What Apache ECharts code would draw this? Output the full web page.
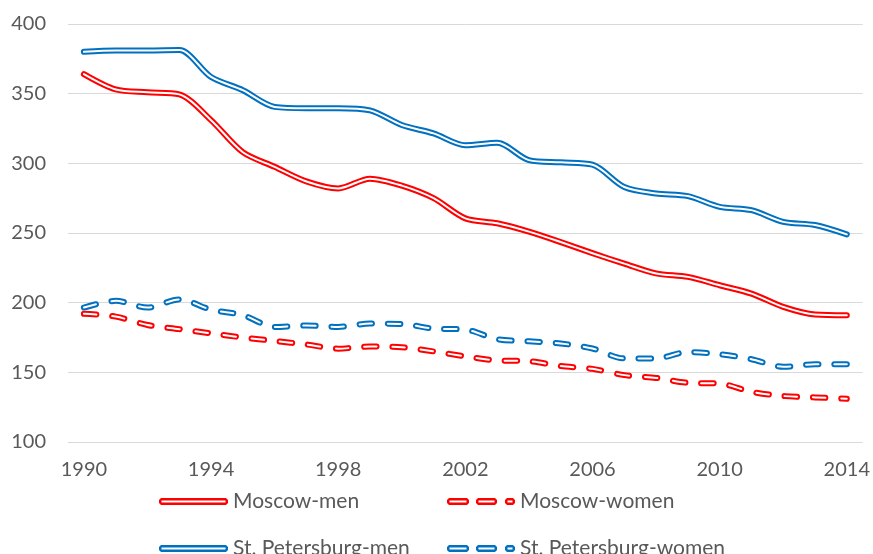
<!DOCTYPE html>
<html>
<head>
<meta charset="utf-8">
<script src="https://cdn.jsdelivr.net/npm/echarts@6/dist/echarts.min.js"></script>
<style>
  html, body { margin: 0; padding: 0; background: #fff; }
  #chart { width: 873px; height: 554px; }
</style>
</head>
<body>
<div id="chart"></div>
<script>
// years on the x axis
var years = [1990, 1991, 1992, 1993, 1994, 1995, 1996, 1997, 1998, 1999, 2000, 2001, 2002,
  2003, 2004, 2005, 2006, 2007, 2008, 2009, 2010, 2011, 2012, 2013, 2014]
var xLabelYears = [1990, 1994, 1998, 2002, 2006, 2010, 2014]

var moscowMen = [364, 353, 351, 349.5, 331, 308, 297.5, 287, 282, 289, 284, 275, 260.5,
  257, 251, 243.5, 235.5, 228, 221, 218.5, 212.5, 206.5, 197, 191.5, 191]
var moscowWomen = [192, 190, 184, 181, 178, 175, 172.5, 170, 167, 168.5, 168, 165, 161.5,
  158.5, 158, 154.5, 152.5, 148, 146, 142.5, 142, 136, 133, 132, 131]
var spbMen = [380, 381, 381, 381.3, 362, 352.5, 340.5, 339.5, 339.5, 338, 327.5, 321.5, 313,
  314.7, 302.3, 300.7, 299, 283, 278.4, 276.5, 268.8, 266.4, 258, 255.7, 249]
var spbWomen = [196.5, 201.3, 196.5, 202.3, 195, 191, 182.6, 183.6, 182.6, 185, 184.7, 181.4, 180.7,
  173.8, 172.3, 170.7, 167.1, 160, 160, 164.6, 163, 159.4, 154, 155.8, 155.8]

var RED = '#FF0000'
var BLUE = '#0070C0'
var TEXT = '#595959'
var FONT = 'Lato, "Liberation Sans", sans-serif'

// capsule outline for the legend icon (outer ring minus inner hole)
function ring(x0, x1, h) {
  var c = 2, t = 2.5
  return 'M' + (x0 + c) + ' 0H' + (x1 - c) + 'L' + x1 + ' ' + c + 'V' + (h - c) + 'L' + (x1 - c) + ' ' + h +
    'H' + (x0 + c) + 'L' + x0 + ' ' + (h - c) + 'V' + c + 'Z' +
    'M' + (x0 + t) + ' ' + t + 'V' + (h - t) + 'H' + (x1 - t) + 'V' + t + 'Z'
}
var solidIcon = 'path://' + ring(0, 69, 7)
var dashIcon = 'path://' + ring(0, 22, 7) + ring(29, 50, 7) + ring(58, 68, 7)

function pairs(vals) {
  return years.map(function (y, i) { return [y, vals[i]] })
}

// each line = thick coloured stroke + thin white stroke on top
function doubleLine(name, vals, color, dashed) {
  var dash = dashed ? [12.5, 15.8] : 'solid'
  var base = {
    type: 'line',
    data: pairs(vals),
    symbol: 'none',
    smooth: 0.3,
    silent: true,
    animation: false
  }
  return [
    Object.assign({}, base, {
      name: name,
      itemStyle: { color: color },
      lineStyle: { color: color, width: 6, type: dash, cap: 'round', join: 'round' }
    }),
    Object.assign({}, base, {
      name: name + ' inner',
      itemStyle: { color: '#fff' },
      lineStyle: { color: '#fff', width: 2, type: dash, cap: 'round', join: 'round' }
    })
  ]
}

function legendItem(name, icon, w, left, top) {
  return {
    data: [{ name: name, icon: icon }],
    left: left,
    top: top,
    itemWidth: w,
    itemHeight: 7,
    itemStyle: { borderWidth: 0 },
    selectedMode: false,
    textStyle: { color: TEXT, fontSize: 21, fontFamily: FONT }
  }
}

var chart = echarts.init(document.getElementById('chart'))
chart.setOption({
  backgroundColor: '#fff',
  animation: false,
  grid: { left: 68, right: 8, top: 24, bottom: 112, containLabel: false },
  xAxis: {
    type: 'value',
    min: 1989.5,
    max: 2014.5,
    axisLine: { show: false },
    axisTick: { show: false },
    splitLine: { show: false },
    axisLabel: {
      customValues: xLabelYears,
      color: TEXT,
      fontSize: 20,
      fontFamily: FONT,
      margin: 18,
      formatter: function (v) { return String(v) }
    }
  },
  yAxis: {
    type: 'value',
    min: 100,
    max: 400,
    interval: 50,
    axisLine: { show: false },
    axisTick: { show: false },
    axisLabel: { color: TEXT, fontSize: 20, fontFamily: FONT, margin: 22 },
    splitLine: { lineStyle: { color: '#D9D9D9', width: 1 } }
  },
  legend: [
    legendItem('Moscow-men', solidIcon, 69, 154, 486),
    legendItem('Moscow-women', dashIcon, 68, 442, 486),
    legendItem('St. Petersburg-men', solidIcon, 69, 154, 533),
    legendItem('St. Petersburg-women', dashIcon, 68, 442, 533)
  ],
  series: [].concat(
    doubleLine('Moscow-men', moscowMen, RED, false),
    doubleLine('Moscow-women', moscowWomen, RED, true),
    doubleLine('St. Petersburg-men', spbMen, BLUE, false),
    doubleLine('St. Petersburg-women', spbWomen, BLUE, true)
  )
})
</script>
</body>
</html>
